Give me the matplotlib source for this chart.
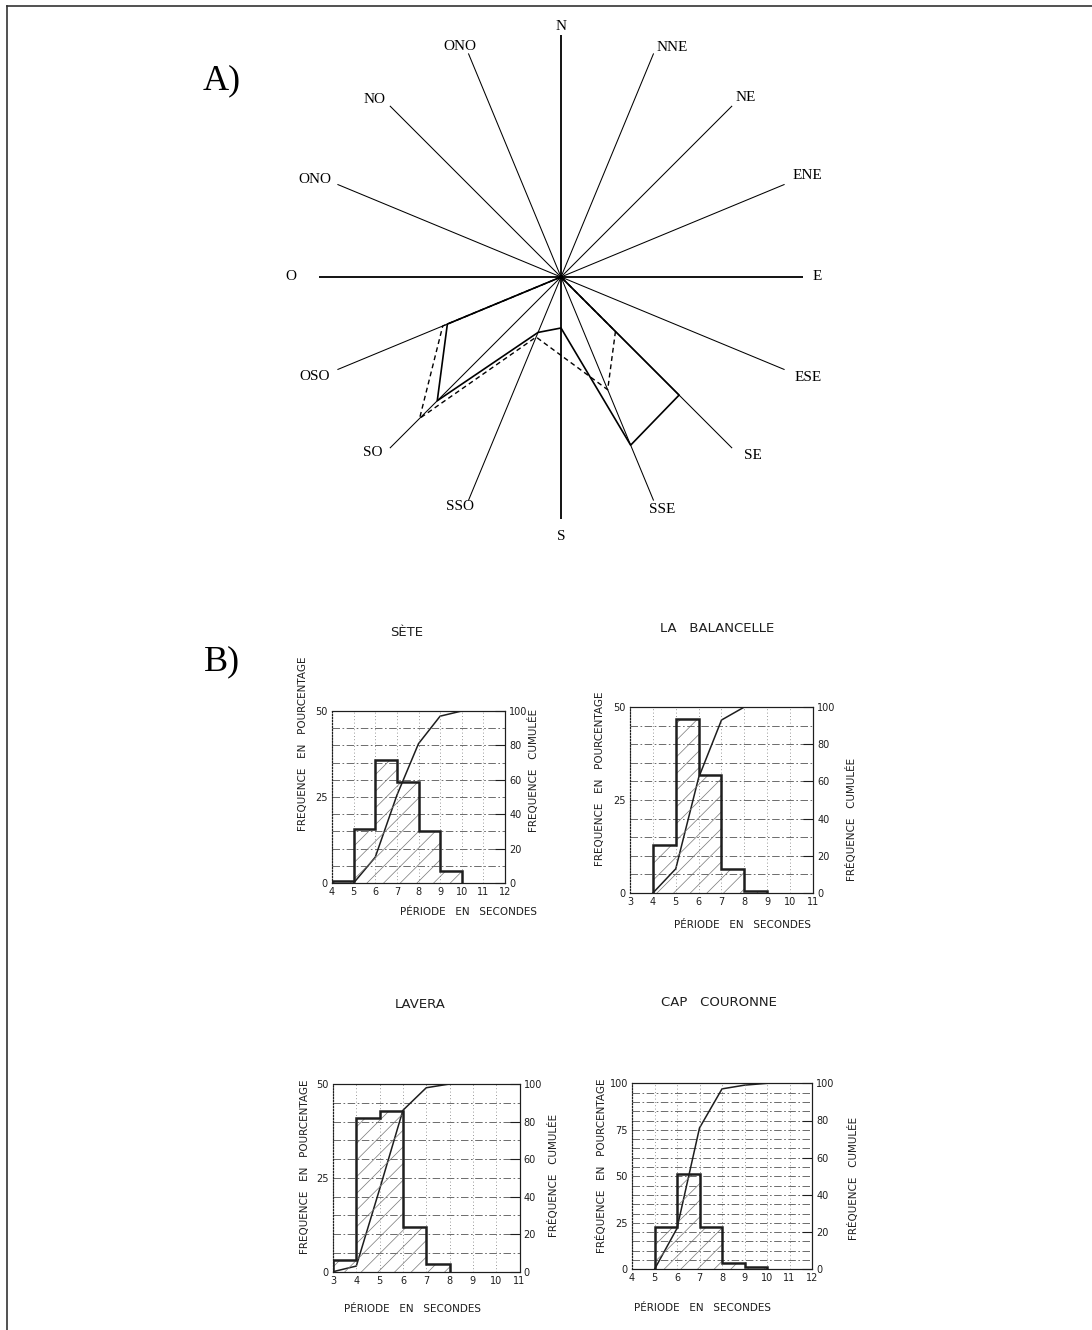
import numpy as np
import matplotlib
matplotlib.use('Agg')
import matplotlib.pyplot as plt
from matplotlib.lines import Line2D

W, H = 1092, 1330

# ---- A) rose des directions ----
directions = ['N', 'NNE', 'NE', 'ENE', 'E', 'ESE', 'SE', 'SSE',
              'S', 'SSO', 'SO', 'OSO', 'O', 'ONO', 'NO', 'ONO']
dir_angles = [i * 22.5 for i in range(16)]
axis_len = 242

solid_dirs = ['OSO', 'SO', 'SSO', 'S', 'SSE', 'SE']
solid_vals = [123, 175, 60, 51, 182, 167]
dashed_dirs = ['OSO', 'SO', 'SSO', 'SSE', 'SE']
dashed_vals = [128, 200, 65, 122, 77]

# ---- B) histogrammes des periodes ----
sete_edges = [4, 5, 6, 7, 8, 9, 10]
sete_freq = [0.5, 15.8, 35.9, 29.3, 15.2, 3.4]
sete_cum_x = [5, 6, 7, 8, 9, 10]
sete_cum = [0, 15, 51, 81, 97, 100]

bal_edges = [4, 5, 6, 7, 8, 9]
bal_freq = [13.0, 46.8, 31.8, 6.5, 0.5]
bal_cum_x = [4, 5, 6, 7, 8]
bal_cum = [0, 13, 62, 93, 100]

lav_edges = [3, 4, 5, 6, 7, 8]
lav_freq = [3.1, 40.9, 42.8, 12.0, 2.0]
lav_cum_x = [3, 4, 5, 6, 7, 8]
lav_cum = [0, 3, 44, 86, 98, 100]

cap_edges = [5, 6, 7, 8, 9, 10]
cap_freq = [22.5, 51.0, 22.5, 3.5, 1.0]
cap_cum_x = [5, 6, 7, 8, 9, 10]
cap_cum = [0, 22, 76, 97, 99, 100]

# placement des etiquettes de la rose (rayon, angle en degres)
label_pos = [(250, 0), (255, 25.8), (257, 45.8), (267, 67.6), (256, 90), (267, 112),
             (262, 133), (253, 156.5), (259, 180), (251, 203.7), (257, 227), (266, 248),
             (270, 270), (265, 291.5), (257, 313.6), (252, 336.4)]


def fx(x):
    return x / W


def fy(y):
    return 1 - y / H


fig = plt.figure(figsize=(W / 100, H / 100), dpi=100)
fig.patch.set_facecolor('white')

# cadre
fig.add_artist(Line2D([fx(7), fx(7)], [0, fy(6)], transform=fig.transFigure, color='#333333', lw=1.2))
fig.add_artist(Line2D([fx(7), 1], [fy(6), fy(6)], transform=fig.transFigure, color='#333333', lw=1.2))

serif = 'Liberation Serif'
fig.text(fx(222), fy(81), 'A)', fontsize=26, family=serif, ha='center', va='center')
fig.text(fx(222), fy(662), 'B)', fontsize=26, family=serif, ha='center', va='center')

cx, cy, rmax = 561, 277, 280
axr = fig.add_axes([fx(cx - rmax), fy(cy + rmax), 2 * rmax / W, 2 * rmax / H], projection='polar')
axr.set_theta_zero_location('N')
axr.set_theta_direction(-1)
axr.set_ylim(0, rmax)
axr.axis('off')

ang_of = {}
for name, a, (rl, al) in zip(directions, dir_angles, label_pos):
    t = np.deg2rad(a)
    ang_of.setdefault(name, t)
    lw = 1.3 if name in ('N', 'S', 'E', 'O') else 0.75
    axr.plot([t, t], [0, axis_len], color='black', lw=lw, solid_capstyle='butt')
    axr.text(np.deg2rad(al), rl, name, ha='center', va='center', fontsize=11, family=serif)

th = [ang_of['OSO']] + [ang_of[d] for d in solid_dirs] + [ang_of['SE']]
rr = [0] + solid_vals + [0]
axr.plot(th, rr, color='black', lw=1.2)
th = [ang_of['OSO']] + [ang_of[d] for d in dashed_dirs] + [ang_of['SE']]
rr = [0] + dashed_vals + [0]
axr.plot(th, rr, color='black', lw=1.0, ls=(0, (3.5, 2.5)))

# ---- histogrammes ----
plt.rcParams['hatch.linewidth'] = 0.5
sans = 'DejaVu Sans'
ink = '#1e1e1e'


def histogram(box, edges, freq, cum_x, cum, ymax, yticks, grid_step, texts):
    x0, x1, ytop, ybot = box
    ax = fig.add_axes([fx(x0), fy(ybot), (x1 - x0) / W, (ybot - ytop) / H])
    xmin, xmax = texts['xlim']
    ax.set_xlim(xmin, xmax)
    ax.set_ylim(0, ymax)
    ax2 = ax.twinx()
    ax2.set_ylim(0, 100)

    for v in range(grid_step, 100, grid_step):
        ax2.axhline(v, color='#555555', lw=0.6, ls=(0, (9, 3, 2, 3)), zorder=0)
    for x in range(xmin + 1, xmax):
        ax.axvline(x, color='#777777', lw=0.6, ls=(0, (1, 3)), zorder=0)

    ax.bar(edges[:-1], freq, width=1, align='edge', facecolor='none',
           edgecolor='#777777', hatch='//', lw=0, zorder=1)
    ax.stairs(freq, edges, baseline=0, color=ink, lw=1.8, zorder=3)
    ax2.plot(cum_x, cum, color=ink, lw=1.1, zorder=4)

    ax.set_xticks(range(xmin, xmax + 1))
    ax.set_yticks(yticks)
    ax.tick_params(axis='both', length=0, labelsize=7, pad=3, colors=ink)
    ax2.set_yticks(range(0, 101, 20))
    ax2.tick_params(axis='y', direction='in', length=7, width=0.8, labelsize=7, pad=3, colors=ink)
    for a in (ax, ax2):
        a.patch.set_visible(False)
        for s in a.spines.values():
            s.set_linewidth(0.8)
            s.set_color(ink)
        a.spines['left'].set_linestyle(':')
    ax.set_zorder(2)

    tx, ty = texts['title_xy']
    fig.text(fx(tx), fy(ty), texts['title'], fontsize=9.5, family=sans, ha='center', va='center', color=ink)
    lx, ly = texts['left_xy']
    fig.text(fx(lx), fy(ly), texts['left'], fontsize=7.5, family=sans, rotation=90,
             ha='center', va='center', color=ink)
    rx, ry = texts['right_xy']
    fig.text(fx(rx), fy(ry), texts['right'], fontsize=7.5, family=sans, rotation=90,
             ha='center', va='center', color=ink)
    bx, by = texts['bottom_xy']
    fig.text(fx(bx), fy(by), 'PÉRIODE   EN   SECONDES', fontsize=7.5, family=sans,
             ha='center', va='center', color=ink)


histogram((332, 505, 711, 883), sete_edges, sete_freq, sete_cum_x, sete_cum, 50, [0, 25, 50], 10,
          dict(xlim=(4, 12), title='SÈTE', title_xy=(407, 633),
               left='FREQUENCE   EN   POURCENTAGE', left_xy=(303, 744),
               right='FREQUENCE   CUMULÉE', right_xy=(534, 770), bottom_xy=(468, 912)))

histogram((630, 813, 707, 893), bal_edges, bal_freq, bal_cum_x, bal_cum, 50, [0, 25, 50], 10,
          dict(xlim=(3, 11), title='LA   BALANCELLE', title_xy=(717, 629),
               left='FREQUENCE   EN   POURCENTAGE', left_xy=(600, 779),
               right='FRÉQUENCE   CUMULÉE', right_xy=(852, 819), bottom_xy=(742, 925)))

histogram((333, 519.5, 1084, 1271.7), lav_edges, lav_freq, lav_cum_x, lav_cum, 50, [0, 25, 50], 10,
          dict(xlim=(3, 11), title='LAVERA', title_xy=(420, 1004),
               left='FREQUENCE   EN   POURCENTAGE', left_xy=(305, 1167),
               right='FRÉQUENCE   CUMULÉE', right_xy=(553, 1175), bottom_xy=(413, 1309)))

histogram((632, 812, 1083.3, 1269.3), cap_edges, cap_freq, cap_cum_x, cap_cum, 100, [0, 25, 50, 75, 100], 5,
          dict(xlim=(4, 12), title='CAP   COURONNE', title_xy=(719, 1002),
               left='FRÉQUENCE   EN   POURCENTAGE', left_xy=(602, 1166),
               right='FRÉQUENCE   CUMULÉE', right_xy=(854, 1178), bottom_xy=(702, 1308)))

fig.savefig('out.png', dpi=100, facecolor='white')
